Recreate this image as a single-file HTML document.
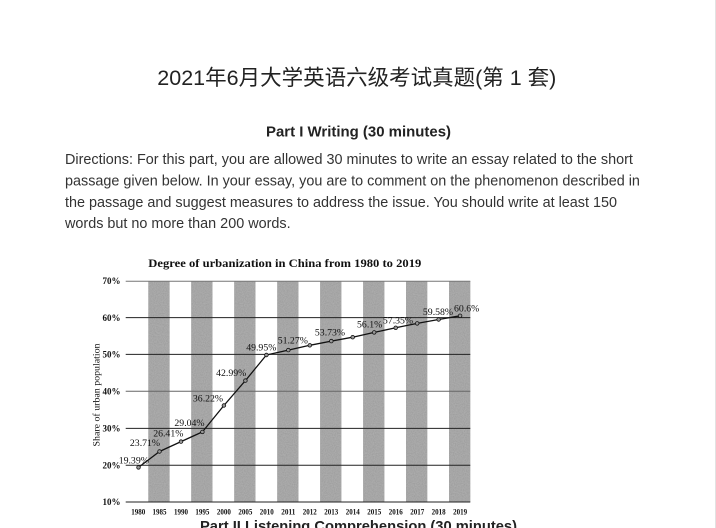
<!DOCTYPE html>
<html>
<head>
<meta charset="utf-8">
<style>
  html,body{margin:0;padding:0;background:#fff;}
  body{width:716px;height:528px;overflow:hidden;position:relative;}
  svg{position:absolute;left:0;top:0;}
  .sans{font-family:"Liberation Sans","Noto Sans CJK SC",sans-serif;}
  .serif{font-family:"Liberation Serif","Noto Serif CJK SC",serif;}
</style>
</head>
<body>
<svg width="716" height="528" viewBox="0 0 716 528" xmlns="http://www.w3.org/2000/svg">
  <rect x="0" y="0" width="716" height="528" fill="#fff"/>
  <line x1="715.5" y1="0" x2="715.5" y2="528" stroke="#e2e2e2" stroke-width="1"/>

  <!-- Page title -->
  <text class="sans" x="157.3" y="85" font-size="21.5" fill="#222" textLength="399" lengthAdjust="spacingAndGlyphs">2021年6月大学英语六级考试真题(第 1 套)</text>

  <!-- Heading -->
  <text class="sans" x="266" y="136.7" font-size="14.6" font-weight="bold" fill="#222" textLength="185" lengthAdjust="spacingAndGlyphs">Part I Writing (30 minutes)</text>

  <!-- Paragraph -->
  <g class="sans" font-size="14.4" fill="#333">
    <text x="65" y="164">Directions: For this part, you are allowed 30 minutes to write an essay related to the short</text>
    <text x="65" y="185.4">passage given below. In your essay, you are to comment on the phenomenon described in</text>
    <text x="65" y="206.8">the passage and suggest measures to address the issue. You should write at least 150</text>
    <text x="65" y="228.2">words but no more than 200 words.</text>
  </g>

  <!-- Chart -->
  <defs>
    <filter id="noise" x="0" y="0" width="100%" height="100%">
      <feTurbulence type="fractalNoise" baseFrequency="0.9" numOctaves="1" seed="3" result="t"/>
      <feColorMatrix in="t" type="matrix" values="0 0 0 0 0.45  0 0 0 0 0.45  0 0 0 0 0.45  0 0 0 1.2 -0.2" result="g"/>
      <feComposite in="g" in2="SourceGraphic" operator="in" result="gc"/>
      <feMerge><feMergeNode in="SourceGraphic"/><feMergeNode in="gc"/></feMerge>
    </filter>
  </defs>

  <text class="serif" x="148.3" y="267" font-size="11.5" font-weight="bold" fill="#111" textLength="273" lengthAdjust="spacingAndGlyphs">Degree of urbanization in China from 1980 to 2019</text>

  <!-- bars -->
  <g fill="#9d9d9d" filter="url(#noise)">
    <rect x="148.3" y="281" width="21.3" height="221"/>
    <rect x="191.2" y="281" width="21.3" height="221"/>
    <rect x="234.2" y="281" width="21.3" height="221"/>
    <rect x="277.2" y="281" width="21.3" height="221"/>
    <rect x="320.1" y="281" width="21.3" height="221"/>
    <rect x="363.1" y="281" width="21.3" height="221"/>
    <rect x="406.0" y="281" width="21.3" height="221"/>
    <rect x="449.0" y="281" width="21.3" height="221"/>
  </g>

  <!-- gridlines -->
  <g stroke-width="1">
    <line x1="125.7" y1="281.2" x2="470.3" y2="281.2" stroke="#777"/>
    <line x1="125.7" y1="317.6" x2="470.3" y2="317.6" stroke="#222"/>
    <line x1="125.7" y1="354.4" x2="470.3" y2="354.4" stroke="#222"/>
    <line x1="125.7" y1="391.2" x2="470.3" y2="391.2" stroke="#666"/>
    <line x1="125.7" y1="428.4" x2="470.3" y2="428.4" stroke="#222"/>
    <line x1="125.7" y1="465.2" x2="470.3" y2="465.2" stroke="#222"/>
    <line x1="125.7" y1="502" x2="470.3" y2="502" stroke="#222"/>
  </g>

  <!-- y tick labels -->
  <g class="serif" font-size="9" font-weight="bold" fill="#111" text-anchor="end">
    <text x="120.5" y="284.2">70%</text>
    <text x="120.5" y="320.8">60%</text>
    <text x="120.5" y="357.6">50%</text>
    <text x="120.5" y="394.4">40%</text>
    <text x="120.5" y="431.6">30%</text>
    <text x="120.5" y="468.4">20%</text>
    <text x="120.5" y="505.2">10%</text>
  </g>

  <!-- y axis title -->
  <text class="serif" transform="translate(99.5,395) rotate(-90)" font-size="9" fill="#111" text-anchor="middle" textLength="103" lengthAdjust="spacingAndGlyphs">Share of urban population</text>

  <!-- x labels -->
  <g class="serif" font-size="8.5" font-weight="bold" fill="#111" text-anchor="middle">
    <text x="138.3" y="514.5" textLength="14" lengthAdjust="spacingAndGlyphs">1980</text>
    <text x="159.5" y="514.5" textLength="14" lengthAdjust="spacingAndGlyphs">1985</text>
    <text x="181.0" y="514.5" textLength="14" lengthAdjust="spacingAndGlyphs">1990</text>
    <text x="202.4" y="514.5" textLength="14" lengthAdjust="spacingAndGlyphs">1995</text>
    <text x="223.9" y="514.5" textLength="14" lengthAdjust="spacingAndGlyphs">2000</text>
    <text x="245.4" y="514.5" textLength="14" lengthAdjust="spacingAndGlyphs">2005</text>
    <text x="266.8" y="514.5" textLength="14" lengthAdjust="spacingAndGlyphs">2010</text>
    <text x="288.3" y="514.5" textLength="14" lengthAdjust="spacingAndGlyphs">2011</text>
    <text x="309.8" y="514.5" textLength="14" lengthAdjust="spacingAndGlyphs">2012</text>
    <text x="331.3" y="514.5" textLength="14" lengthAdjust="spacingAndGlyphs">2013</text>
    <text x="352.7" y="514.5" textLength="14" lengthAdjust="spacingAndGlyphs">2014</text>
    <text x="374.2" y="514.5" textLength="14" lengthAdjust="spacingAndGlyphs">2015</text>
    <text x="395.7" y="514.5" textLength="14" lengthAdjust="spacingAndGlyphs">2016</text>
    <text x="417.2" y="514.5" textLength="14" lengthAdjust="spacingAndGlyphs">2017</text>
    <text x="438.6" y="514.5" textLength="14" lengthAdjust="spacingAndGlyphs">2018</text>
    <text x="460.1" y="514.5" textLength="14" lengthAdjust="spacingAndGlyphs">2019</text>
  </g>

  <!-- series line -->
  <polyline fill="none" stroke="#111" stroke-width="1.3" stroke-linejoin="round"
    points="138.5,467.4 159.5,451.5 181,441.6 202.4,431.9 223.9,405.5 245.4,380.6 266.4,355 288.3,350.1 309.8,345.3 331.3,341.1 352.7,337.2 374.2,332.4 395.7,327.8 417.2,323.4 438.6,319.5 460.1,315.8"/>
  <g fill="#999" stroke="#111" stroke-width="0.8">
    <circle cx="138.5" cy="467.4" r="1.8"/>
    <circle cx="159.5" cy="451.5" r="1.8"/>
    <circle cx="181" cy="441.6" r="1.8"/>
    <circle cx="202.4" cy="431.9" r="1.8"/>
    <circle cx="223.9" cy="405.5" r="1.8"/>
    <circle cx="245.4" cy="380.6" r="1.8"/>
    <circle cx="266.4" cy="355" r="1.8"/>
    <circle cx="288.3" cy="350.1" r="1.8"/>
    <circle cx="309.8" cy="345.3" r="1.8"/>
    <circle cx="331.3" cy="341.1" r="1.8"/>
    <circle cx="352.7" cy="337.2" r="1.8"/>
    <circle cx="374.2" cy="332.4" r="1.8"/>
    <circle cx="395.7" cy="327.8" r="1.8"/>
    <circle cx="417.2" cy="323.4" r="1.8"/>
    <circle cx="438.6" cy="319.5" r="1.8"/>
    <circle cx="460.1" cy="315.8" r="1.8"/>
  </g>

  <!-- data labels -->
  <g class="serif" font-size="9.8" fill="#111" text-anchor="middle">
    <text x="133.8" y="463.3">19.39%</text>
    <text x="145" y="446">23.71%</text>
    <text x="168.3" y="436.3">26.41%</text>
    <text x="189.5" y="426">29.04%</text>
    <text x="208" y="401.6">36.22%</text>
    <text x="231.2" y="376">42.99%</text>
    <text x="261.3" y="350.6">49.95%</text>
    <text x="292.8" y="343.3">51.27%</text>
    <text x="330" y="335.6">53.73%</text>
    <text x="369.7" y="327.3">56.1%</text>
    <text x="398" y="323.3">57.35%</text>
    <text x="438" y="315">59.58%</text>
    <text x="466.7" y="311.6">60.6%</text>
  </g>

  <!-- Next heading (cut off) -->
  <text class="sans" x="200" y="530.8" font-size="14.6" font-weight="bold" fill="#222" textLength="317" lengthAdjust="spacingAndGlyphs">Part II Listening Comprehension (30 minutes)</text>
</svg>
</body>
</html>
